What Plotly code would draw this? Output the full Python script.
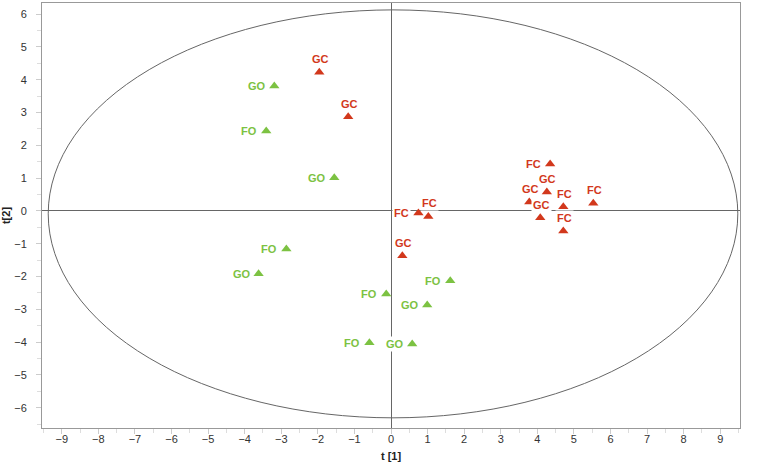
import plotly.graph_objects as go

# Scores t[1], t[2]
labels = ["GC", "GC", "FC", "GC", "GC", "GC", "FC", "FC", "FC", "FC", "FC", "GC",
          "GO", "FO", "GO", "FO", "GO", "FO", "FO", "GO", "FO", "GO"]
t1 = [-1.96, -1.17, 4.35, 4.26, 3.78, 4.08, 4.71, 4.71, 5.53, 0.75, 1.02, 0.31,
      -3.19, -3.41, -1.55, -2.86, -3.62, 1.62, -0.13, 0.99, -0.59, 0.58]
t2 = [4.23, 2.87, 1.43, 0.58, 0.27, -0.21, 0.13, -0.61, 0.23, -0.06, -0.17, -1.37,
      3.81, 2.44, 1.01, -1.16, -1.92, -2.13, -2.53, -2.87, -4.02, -4.06]
label_pos = ["top", "top", "left", "top", "top", "top", "top", "top", "top", "left", "top", "top",
             "left", "left", "left", "left", "left", "left", "left", "left", "left", "left"]

# Hotelling T2 ellipse extents
ell_x = [-9.37, 9.48]
ell_y = [-6.31, 6.13]

x_ticks = list(range(-9, 10))
y_ticks = list(range(-6, 7))

RED = "#d2381c"
GREEN = "#7cc242"
FONT = "Liberation Sans, Arial"

def color_of(lab):
    return RED if lab.endswith("C") else GREEN

fig = go.Figure()

for grp, col in [("C", RED), ("O", GREEN)]:
    idx = [i for i, l in enumerate(labels) if l.endswith(grp)]
    fig.add_trace(go.Scatter(
        x=[t1[i] for i in idx], y=[t2[i] for i in idx], mode="markers",
        marker=dict(symbol="triangle-up", size=9, color=col),
        showlegend=False, hoverinfo="skip"))

fig.add_shape(type="circle", xref="x", yref="y",
              x0=ell_x[0], x1=ell_x[1], y0=ell_y[0], y1=ell_y[1],
              line=dict(color="#666", width=1), layer="below")

for l, x, y, p in zip(labels, t1, t2, label_pos):
    if p == "top":
        xs, ys = 1, 13
    else:
        xs, ys = -17, 0
    fig.add_annotation(x=x, y=y, xref="x", yref="y", text=l, showarrow=False,
                       xshift=xs, yshift=ys, bgcolor="white", borderpad=1,
                       font=dict(family=FONT, size=11, color=color_of(l), weight="bold"))

axis_common = dict(showgrid=False, zeroline=True, zerolinecolor="#666", zerolinewidth=1,
                   showline=True, mirror=True, linecolor="#999", linewidth=1,
                   automargin=False,
                   ticks="outside", ticklen=5, tickcolor="#ccc",
                   tickfont=dict(family=FONT, size=11, color="#333"),
                   minor=dict(dtick=0.5, ticks="outside", ticklen=4, tickcolor="#ddd"))

fig.update_layout(
    width=771, height=470,
    margin=dict(l=42, r=31, t=3, b=42),
    plot_bgcolor="white", paper_bgcolor="white",
    xaxis=dict(range=[-9.54, 9.54], tickvals=x_ticks, ticklabelstandoff=-4,
               title=dict(text="t [1]", standoff=8,
                          font=dict(family=FONT, size=11, color="#222", weight="bold")),
               **axis_common),
    yaxis=dict(range=[-6.62, 6.34], tickvals=y_ticks, ticklabelstandoff=7,
               title=dict(text="t[2]", standoff=6,
                          font=dict(family=FONT, size=11, color="#222", weight="bold")),
               **axis_common),
)

fig.write_html("out.html", config={"displayModeBar": False},
               post_script="document.body.style.margin='0';")
